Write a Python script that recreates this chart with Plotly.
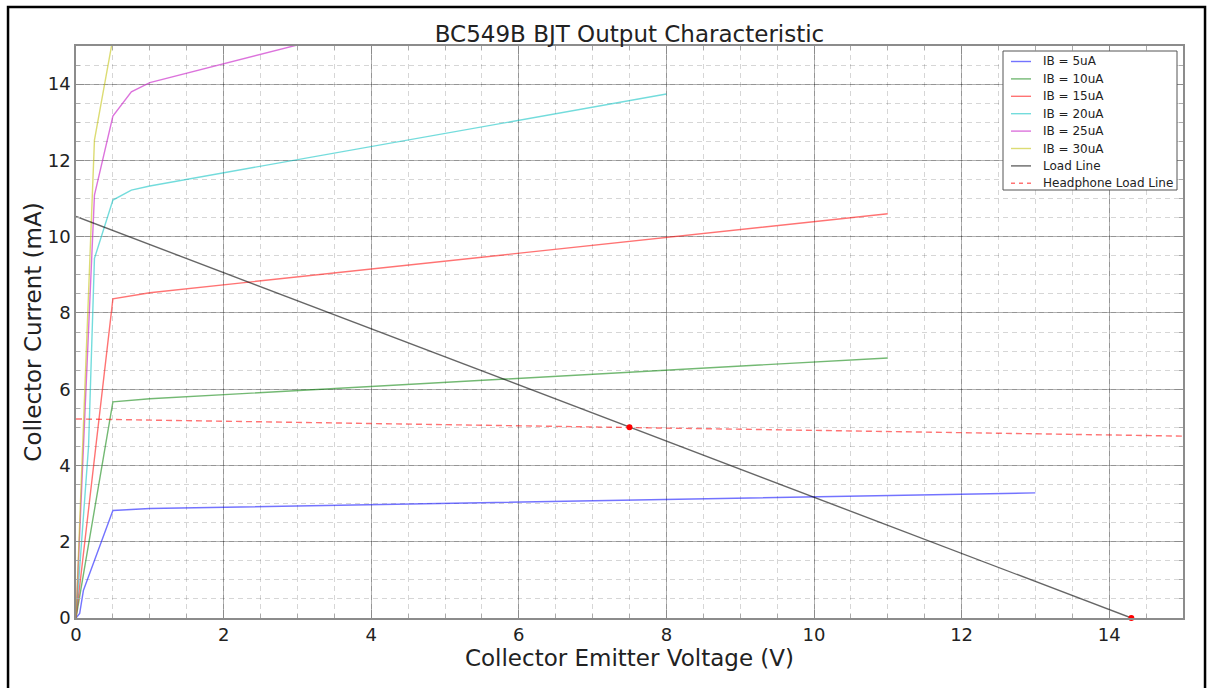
import plotly.graph_objects as go

# ---- data ----
ib5_v = [0, 0.05, 0.1, 0.5, 1, 13]
ib5_i = [0, 0.12, 0.72, 2.82, 2.87, 3.28]

ib10_v = [0, 0.5, 1, 11]
ib10_i = [0, 5.67, 5.75, 6.82]

ib15_v = [0, 0.5, 1, 11]
ib15_i = [0, 8.37, 8.53, 10.6]

ib20_v = [0, 0.17, 0.25, 0.5, 0.75, 1, 8]
ib20_i = [0, 4.5, 9.43, 10.96, 11.22, 11.33, 13.74]

ib25_v = [0, 0.25, 0.5, 0.75, 1, 4]
ib25_i = [0, 11.09, 13.16, 13.8, 14.04, 15.52]

ib30_v = [0, 0.17, 0.25, 0.5]
ib30_i = [0, 8.86, 12.53, 15.2]

load_v = [0, 14.3]
load_i = [10.53, 0]

hp_v = [0, 15]
hp_i = [5.22, 4.77]

q_v = [7.5, 14.3]
q_i = [5.0, 0]

x_ticks = [0, 2, 4, 6, 8, 10, 12, 14]
y_ticks = [0, 2, 4, 6, 8, 10, 12, 14]

FONT = "DejaVu Sans"
W, H = 1208, 688
ML, MR, MT, MB = 76, 25, 46, 70
PW, PH = W - ML - MR, H - MT - MB


def px_x(px):
    return (px - ML) / PW


def px_y(py):
    return (H - MB - py) / PH


fig = go.Figure()
series = [
    ("IB = 5uA", ib5_v, ib5_i, "rgba(0,0,255,0.55)", "solid"),
    ("IB = 10uA", ib10_v, ib10_i, "rgba(0,128,0,0.55)", "solid"),
    ("IB = 15uA", ib15_v, ib15_i, "rgba(255,0,0,0.55)", "solid"),
    ("IB = 20uA", ib20_v, ib20_i, "rgba(0,191,191,0.55)", "solid"),
    ("IB = 25uA", ib25_v, ib25_i, "rgba(191,0,191,0.55)", "solid"),
    ("IB = 30uA", ib30_v, ib30_i, "rgba(191,191,0,0.55)", "solid"),
    ("Load Line", load_v, load_i, "rgba(0,0,0,0.6)", "solid"),
    ("Headphone Load Line", hp_v, hp_i, "rgba(255,0,0,0.55)", "6px,4px"),
]
for name, v, i, c, d in series:
    fig.add_trace(go.Scatter(x=v, y=i, mode="lines", name=name, showlegend=False,
                             line=dict(color=c, width=1.4, dash=d)))

fig.add_trace(go.Scatter(x=q_v, y=q_i, mode="markers", showlegend=False,
                         marker=dict(color="red", size=6), cliponaxis=False))

axis_common = dict(
    showline=True, linecolor="#8c8c8c", linewidth=1.5, mirror="ticks",
    ticks="inside", ticklen=8, tickcolor="#8c8c8c",
    showgrid=True, gridcolor="rgba(0,0,0,0.3)", gridwidth=1,
    zeroline=False,
    tickfont=dict(family=FONT, size=18, color="#222"),
    minor=dict(dtick=0.5, showgrid=True, gridcolor="rgba(0,0,0,0.16)",
               griddash="5px,4px", ticks="inside", ticklen=4, tickcolor="#aaa"),
)

# custom legend (box, line samples, labels)
shapes = [dict(type="rect", xref="paper", yref="paper",
               x0=-0.0614, x1=1.0199, y0=-0.13, y1=1.068,
               line=dict(color="black", width=2.5), layer="above"),
          dict(type="rect", xref="paper", yref="paper",
               x0=px_x(1003), x1=px_x(1177), y0=px_y(190), y1=px_y(51),
               fillcolor="white", line=dict(color="#555", width=1), layer="above")]
annotations = []
y0, step = 61.5, 17.4
for k, (name, v, i, c, d) in enumerate(series):
    yy = px_y(y0 + k * step)
    shapes.append(dict(type="line", xref="paper", yref="paper",
                       x0=px_x(1011), x1=px_x(1031), y0=yy, y1=yy,
                       line=dict(color=c, width=1.4, dash="4px,4px" if d != "solid" else "solid"),
                       layer="above"))
    annotations.append(dict(xref="paper", yref="paper", x=px_x(1041), y=yy,
                            text=name, showarrow=False, xanchor="left", yanchor="middle",
                            font=dict(family=FONT, size=12, color="#222")))

fig.update_layout(
    width=W, height=H,
    margin=dict(l=ML, r=MR, t=MT, b=MB),
    paper_bgcolor="white", plot_bgcolor="white",
    font=dict(family=FONT, color="#222"),
    showlegend=False,
    title=dict(text="BC549B BJT Output Characteristic", x=0.5, xref="paper",
               xanchor="center", y=0.951, yanchor="middle",
               font=dict(family=FONT, size=23, color="#222")),
    xaxis=dict(range=[0, 15], tickvals=x_ticks,
               title=dict(text="Collector Emitter Voltage (V)", standoff=5,
                          font=dict(family=FONT, size=23, color="#222")),
               **axis_common),
    yaxis=dict(range=[0, 15], tickvals=y_ticks,
               title=dict(text="Collector Current (mA)", standoff=0,
                          font=dict(family=FONT, size=23, color="#222")),
               **axis_common),
    shapes=shapes,
    annotations=annotations,
)

fig.write_html("out.html")
